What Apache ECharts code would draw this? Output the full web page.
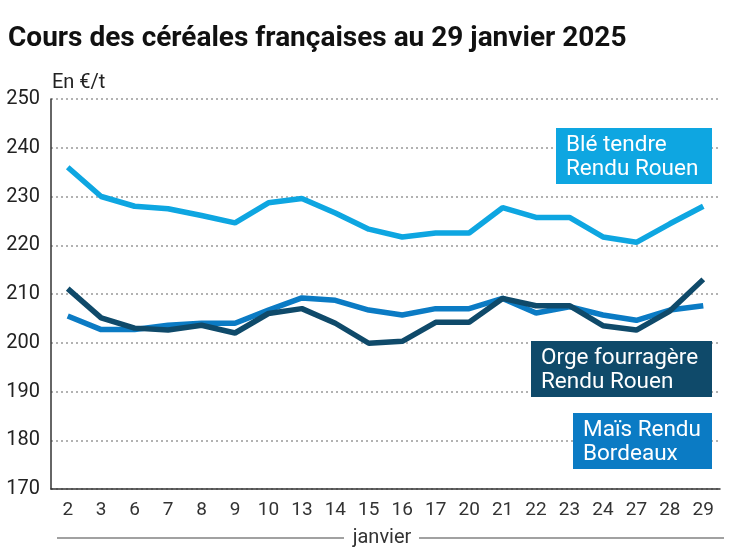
<!DOCTYPE html>
<html><head><meta charset="utf-8">
<script src="https://cdn.jsdelivr.net/npm/echarts@6/dist/echarts.min.js"></script>
<style>html,body{margin:0;padding:0;background:#fff}#c{width:747px;height:558px}</style>
</head><body><div id="c"></div>
<script>
const categories = ['2','3','6','7','8','9','10','13','14','15','16','17','20','21','22','23','24','27','28','29'];
const ble = [236.0,230.0,228.0,227.5,226.1,224.6,228.7,229.6,226.6,223.3,221.7,222.5,222.5,227.7,225.7,225.7,221.7,220.6,224.4,228.0];
const mais = [205.5,202.7,202.7,203.6,204.0,204.0,206.7,209.2,208.7,206.7,205.7,207.0,207.0,209.1,206.1,207.4,205.7,204.6,206.7,207.6];
const orge = [211.1,205.1,203.0,202.6,203.6,202.0,206.0,207.0,204.0,199.9,200.3,204.2,204.2,209.1,207.6,207.6,203.5,202.6,206.5,213.0];
const yTicks = [170,180,190,200,210,220,230,240,250];

const cBle = '#0ea6e1', cMais = '#0b7bc4', cOrge = '#0f4a6a';
const font = 'Roboto, "Noto Sans", sans-serif';
const narrow = '"Liberation Sans Narrow", Roboto, sans-serif';
const chart = echarts.init(document.getElementById('c'));
chart.setOption({
  animation: false,
  backgroundColor: '#fff',
  grid: {left: 51, right: 27, top: 99, bottom: 69},
  xAxis: {
    type: 'category', data: categories, boundaryGap: true,
    axisLine: {lineStyle: {color: '#333', width: 1.5}},
    axisTick: {show: false},
    axisLabel: {color: '#333', fontSize: 19, fontFamily: narrow, margin: 12, interval: 0}
  },
  yAxis: {
    type: 'value', min: yTicks[0], max: yTicks[yTicks.length-1], interval: 10,
    axisLine: {show: true, lineStyle: {color: '#333', width: 1.5}},
    axisTick: {show: false},
    axisLabel: {color: '#222', fontSize: 20, fontFamily: font, margin: 11, padding: [6, 0, 0, 0]},
    splitLine: {lineStyle: {type: [2, 3], color: '#999', width: 1.5}}
  },
  series: [
    {name: 'Blé tendre Rendu Rouen', type: 'line', data: ble, symbol: 'none', lineStyle: {color: cBle, width: 5.5}, z: 3},
    {name: 'Maïs Rendu Bordeaux', type: 'line', data: mais, symbol: 'none', lineStyle: {color: cMais, width: 5.5}, z: 4},
    {name: 'Orge fourragère Rendu Rouen', type: 'line', data: orge, symbol: 'none', lineStyle: {color: cOrge, width: 5.5}, z: 5}
  ],
  graphic: [
    {type: 'text', x: 8, y: 39, style: {text: 'Cours des céréales françaises au 29 janvier 2025', font: 'bold 28px ' + font, fill: '#111', verticalAlign: 'middle'}},
    {type: 'text', x: 52, y: 83, style: {text: 'En €/t', font: '20px ' + font, fill: '#222', verticalAlign: 'middle'}},
    {type: 'rect', shape: {x: 556, y: 128, width: 156, height: 56}, style: {fill: cBle}, z: 10},
    {type: 'text', x: 566, y: 157, style: {text: 'Blé tendre\nRendu Rouen', font: '22.5px ' + font, lineHeight: 24, fill: '#fff', verticalAlign: 'middle', align: 'left'}, z: 11},
    {type: 'rect', shape: {x: 531, y: 341, width: 181, height: 56}, style: {fill: cOrge}, z: 10},
    {type: 'text', x: 541, y: 370, style: {text: 'Orge fourragère\nRendu Rouen', font: '22.5px ' + font, lineHeight: 24, fill: '#fff', verticalAlign: 'middle', align: 'left'}, z: 11},
    {type: 'rect', shape: {x: 573, y: 413, width: 139, height: 56}, style: {fill: cMais}, z: 10},
    {type: 'text', x: 583, y: 442, style: {text: 'Maïs Rendu\nBordeaux', font: '22.5px ' + font, lineHeight: 24, fill: '#fff', verticalAlign: 'middle', align: 'left'}, z: 11},
    {type: 'line', shape: {x1: 57, y1: 538, x2: 344, y2: 538}, style: {stroke: '#444', lineWidth: 1.2}},
    {type: 'line', shape: {x1: 419, y1: 538, x2: 724, y2: 538}, style: {stroke: '#444', lineWidth: 1.2}},
    {type: 'text', x: 382, y: 538, style: {text: 'janvier', font: '20px ' + narrow, fill: '#333', align: 'center', verticalAlign: 'middle'}}
  ]
});
</script></body></html>
